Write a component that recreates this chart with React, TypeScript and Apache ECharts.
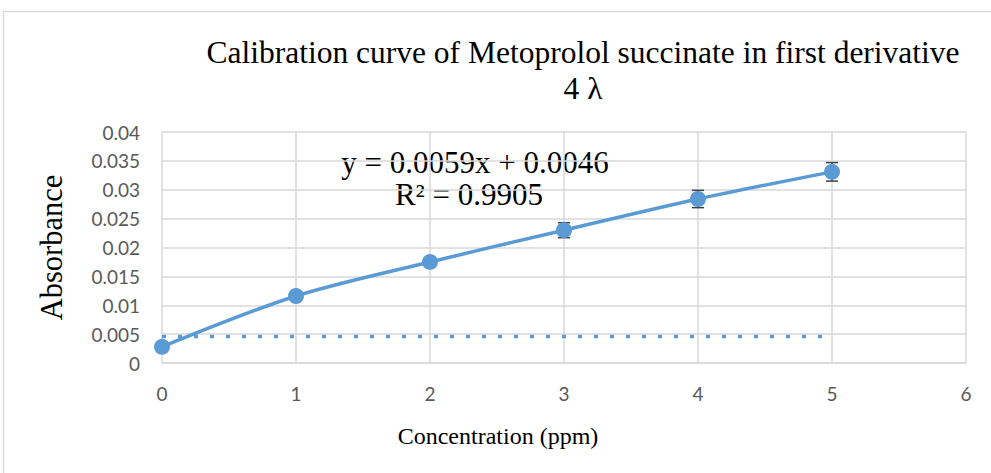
import React, { useEffect, useRef } from "react";
import * as echarts from "echarts";

const concentrations = [0, 1, 2, 3, 4, 5];
const absorbance = [0.0028, 0.0116, 0.0175, 0.023, 0.0284, 0.0331];
const errors = [0.0002, 0.0004, 0.0004, 0.0013, 0.0015, 0.0016];
const baselineValue = 0.0046;
const baselineRange = [0, 5];
const titleLines = ["Calibration curve of Metoprolol succinate in first derivative", "4 λ"];
const equationLines = ["y = 0.0059x + 0.0046", "R² = 0.9905"];
const xAxisTitle = "Concentration (ppm)";
const yAxisTitle = "Absorbance";

export default function App() {
  const ref = useRef<HTMLDivElement>(null);
  useEffect(() => {
    if (!ref.current) return;
    const chart = echarts.init(ref.current, undefined, { renderer: "svg" });
    const blue = "#5b9bd5";
    const grid = "#d9d9d9";
    const serif = "'Liberation Serif', 'Times New Roman', serif";
    const sans = "Lato, 'Open Sans', sans-serif";
    const pointData = concentrations.map((x, i) => [x, absorbance[i]]);
    const errData = concentrations.map((x, i) => [x, absorbance[i] - errors[i], absorbance[i] + errors[i]]);
    chart.setOption({
      animation: false,
      backgroundColor: "#fff",
      graphic: [
        {
          type: "rect",
          shape: { x: 3.5, y: 11.5, width: 1100, height: 600 },
          style: { fill: "none", stroke: grid, lineWidth: 1.5 },
          silent: true,
        },
        {
          type: "text",
          x: 583,
          y: 52,
          style: { text: titleLines[0], font: `31.5px ${serif}`, fill: "#000", align: "center", verticalAlign: "middle" },
        },
        {
          type: "text",
          x: 583,
          y: 88,
          style: { text: titleLines[1], font: `31.5px ${serif}`, fill: "#000", align: "center", verticalAlign: "middle" },
        },
        {
          type: "text",
          x: 475,
          y: 162,
          style: { text: equationLines[0], font: `31px ${serif}`, fill: "#000", align: "center", verticalAlign: "middle" },
        },
        {
          type: "text",
          x: 469,
          y: 194,
          style: { text: equationLines[1], font: `31px ${serif}`, fill: "#000", align: "center", verticalAlign: "middle" },
        },
        {
          type: "text",
          x: 498,
          y: 436,
          style: { text: xAxisTitle, font: `24px ${serif}`, fill: "#000", align: "center", verticalAlign: "middle" },
        },
      ],
      grid: { left: 162, right: 25, top: 132, bottom: 110 },
      xAxis: {
        type: "value",
        min: 0,
        max: 6,
        interval: 1,
        axisLine: { show: true, lineStyle: { color: grid, width: 1.5 } },
        axisTick: { show: false },
        axisLabel: { fontFamily: sans, fontSize: 19, color: "#595959", margin: 21 },
        splitLine: { show: true, lineStyle: { color: grid, width: 1.5 } },
      },
      yAxis: {
        type: "value",
        min: 0,
        max: 0.04,
        interval: 0.005,
        name: yAxisTitle,
        nameLocation: "middle",
        nameGap: 95,
        nameTextStyle: { fontFamily: serif, fontSize: 30.5, color: "#000" },
        axisLine: { show: false },
        axisTick: { show: false },
        axisLabel: { fontFamily: sans, fontSize: 19, color: "#595959", margin: 22 },
        splitLine: { show: true, lineStyle: { color: grid, width: 1.5 } },
      },
      series: [
        {
          type: "line",
          data: baselineRange.map((x) => [x, baselineValue]),
          symbol: "none",
          lineStyle: { color: blue, width: 3.5, type: [4, 12], cap: "butt" },
          z: 2,
        },
        {
          type: "custom",
          data: errData,
          z: 3,
          renderItem: (params: any, api: any) => {
            const x = api.value(0);
            const lo = api.coord([x, api.value(1)]);
            const hi = api.coord([x, api.value(2)]);
            const cap = 6;
            const style = { stroke: "#404040", lineWidth: 1.5 };
            return {
              type: "group",
              children: [
                { type: "line", shape: { x1: lo[0], y1: lo[1], x2: hi[0], y2: hi[1] }, style },
                { type: "line", shape: { x1: lo[0] - cap, y1: lo[1], x2: lo[0] + cap, y2: lo[1] }, style },
                { type: "line", shape: { x1: hi[0] - cap, y1: hi[1], x2: hi[0] + cap, y2: hi[1] }, style },
              ],
            };
          },
        },
        {
          type: "line",
          data: pointData,
          smooth: 0.3,
          symbol: "circle",
          symbolSize: 16,
          itemStyle: { color: blue },
          lineStyle: { color: blue, width: 3.5 },
          z: 4,
        },
      ],
    });
    return () => chart.dispose();
  }, []);
  return <div ref={ref} style={{ position: "fixed", left: 0, top: 0, width: 991, height: 473 }} />;
}
